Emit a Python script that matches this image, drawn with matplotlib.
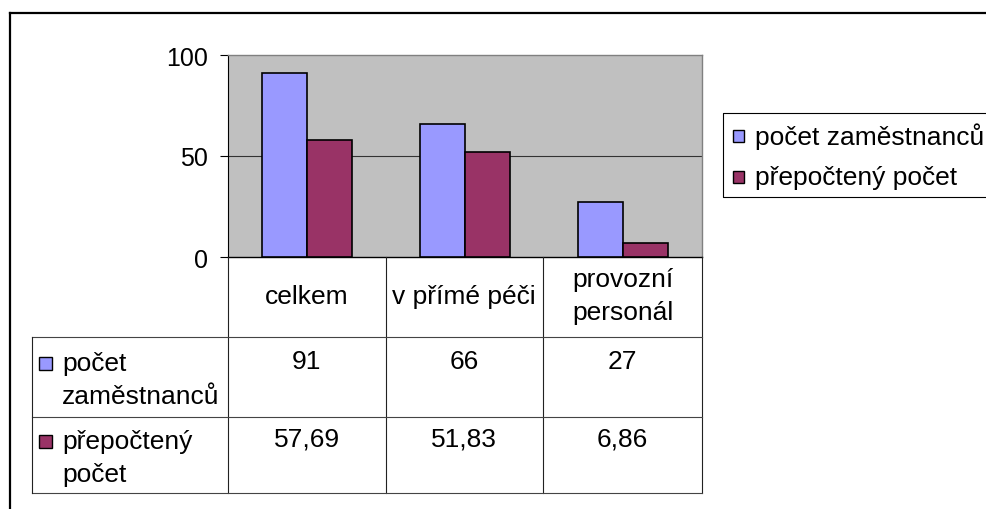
import matplotlib
matplotlib.use("Agg")
import matplotlib.pyplot as plt
import numpy as np

plt.rcParams['font.family'] = ['Liberation Sans', 'DejaVu Sans']

categories = ["celkem", "v přímé péči", "provozní\npersonál"]
series_names = ["počet zaměstnanců", "přepočtený počet"]
series_wrapped = [["počet", "zaměstnanců"], ["přepočtený", "počet"]]
zamestnanci = [91, 66, 27]
prepocteny = [57.69, 51.83, 6.86]
yticks = [0, 50, 100]
colors = ["#9999FF", "#993366"]

W, H = 986, 510
fig = plt.figure(figsize=(W / 100, H / 100), dpi=100)

# pixel geometry
PL, PR, PT, PB = 228, 702, 56, 258

def fx(x):
    return x / W

def fy(y):
    return 1 - y / H

ax = fig.add_axes([fx(PL), fy(PB), fx(PR - PL), (PB - PT) / H])
ax.set_facecolor("#C0C0C0")
x = np.arange(len(categories))
bw = 0.285
series = [zamestnanci, prepocteny]
for i, vals in enumerate(series):
    ax.bar(x + (i - 0.5) * bw, vals, width=bw, color=colors[i],
           edgecolor="black", linewidth=1.2, zorder=3)
ax.set_xlim(-0.5, len(categories) - 0.5)
ax.set_ylim(0, 100)
ax.set_yticks(yticks)
ax.set_yticklabels([str(t) for t in yticks], fontsize=18)
ax.set_xticks([])
ax.tick_params(axis='y', direction='out', length=6, width=0.8, pad=8.5, colors='black')
for yv in yticks[1:-1]:
    ax.axhline(yv, color="#333333", linewidth=0.8, zorder=1)
for s in ['top', 'right']:
    ax.spines[s].set_color('#808080')
    ax.spines[s].set_linewidth(1.0)
ax.spines['left'].set_color('black')
ax.spines['left'].set_linewidth(0.8)
ax.spines['bottom'].set_color('black')
ax.spines['bottom'].set_linewidth(1.0)

# overlay in pixel coordinates
ov = fig.add_axes([0, 0, 1, 1], facecolor='none')
ov.set_xlim(0, W)
ov.set_ylim(H, 0)
ov.axis('off')

# outer frame
ov.plot([10, 10], [14, H + 5], color='black', lw=1.6, solid_capstyle='projecting')
ov.plot([10, W + 5], [14, 14], color='black', lw=1.6, solid_capstyle='projecting')

# data table
cols = [PL, 385.5, 543, PR]
rows = [PB, 338, 418, 494]
TL = 32
lc = '#222222'
for cx in cols:
    ov.plot([cx, cx], [rows[0], rows[-1]], color=lc, lw=0.8)
for ry in rows[1:]:
    ov.plot([TL, PR], [ry, ry], color='#444444', lw=0.8)
ov.plot([TL, TL], [rows[1], rows[-1]], color=lc, lw=0.8)

fs = 19
for j, cat in enumerate(categories):
    cxm = (cols[j] + cols[j + 1]) / 2
    lines = cat.split("\n")
    n = len(lines)
    for k, ln in enumerate(lines):
        yy = 297 + (k - (n - 1) / 2) * 33
        ov.text(cxm, yy, ln, ha='center', va='center', fontsize=fs)

def fmt(v):
    return f"{v:g}".replace('.', ',')

row_text_y = [[364, 397], [442, 475]]
value_y = [362, 440]
for i, vals in enumerate(series):
    for j, v in enumerate(vals):
        cxm = (cols[j] + cols[j + 1]) / 2
        ov.text(cxm, value_y[i], fmt(v), ha='center', va='center', fontsize=fs)
    # marker
    y0 = row_text_y[i][0]
    ov.add_patch(plt.Rectangle((39, y0 - 6.5), 13, 13, facecolor=colors[i],
                               edgecolor='black', lw=1.0))
    for k, ln in enumerate(series_wrapped[i]):
        ov.text(62, row_text_y[i][k], ln, ha='left', va='center', fontsize=fs)

# legend
LL, LT, LB = 723, 114, 198
ov.plot([W + 5, LL, LL, W + 5], [LT, LT, LB, LB], color='black', lw=0.8)
leg_y = [137, 178]
for i, name in enumerate(series_names):
    ov.add_patch(plt.Rectangle((733, leg_y[i] - 6), 11, 12, facecolor=colors[i],
                               edgecolor='black', lw=1.0))
    ov.text(755, leg_y[i], name, ha='left', va='center', fontsize=fs)

fig.savefig("out.png", dpi=100)
